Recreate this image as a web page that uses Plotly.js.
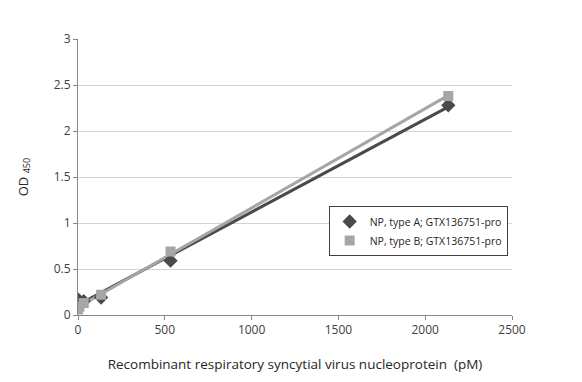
<!DOCTYPE html>
<html>
<head>
<meta charset="utf-8">
<script src="https://cdn.plot.ly/plotly-3.0.1.min.js"></script>
<style>html,body{margin:0;padding:0;background:#fff;}#chart{width:582px;height:382px;}</style>
</head>
<body>
<div id="chart"></div>
<script>
// Concentrations (pM)
const concentrations = [0, 8, 33, 133, 533, 2133];
// OD450 readings
const typeA = [0.17, 0.14, 0.15, 0.19, 0.59, 2.28];
const typeB = [0.06, 0.09, 0.13, 0.22, 0.69, 2.38];
const seriesNames = ['NP, type A; GTX136751-pro', 'NP, type B; GTX136751-pro'];
const xTicks = [0, 500, 1000, 1500, 2000, 2500];
const yTicks = [0, 0.5, 1, 1.5, 2, 2.5, 3];

function fit(x, y) {
  const n = x.length;
  const mx = x.reduce((a, b) => a + b, 0) / n;
  const my = y.reduce((a, b) => a + b, 0) / n;
  let sxy = 0, sxx = 0;
  for (let i = 0; i < n; i++) { sxy += (x[i] - mx) * (y[i] - my); sxx += (x[i] - mx) ** 2; }
  const m = sxy / sxx, b = my - m * mx;
  const xs = [Math.min(...x), Math.max(...x)];
  return { x: xs, y: xs.map(v => m * v + b) };
}

const colA = '#4a4a4a', colB = '#a6a6a6';
const fA = fit(concentrations, typeA), fB = fit(concentrations, typeB);

const traces = [
  { x: fA.x, y: fA.y, mode: 'lines', line: { color: colA, width: 3 }, showlegend: false, hoverinfo: 'skip' },
  { x: fB.x, y: fB.y, mode: 'lines', line: { color: colB, width: 3 }, showlegend: false, hoverinfo: 'skip' },
  { x: concentrations, y: typeA, mode: 'markers', name: seriesNames[0],
    marker: { symbol: 'diamond', size: 11, color: colA } },
  { x: concentrations, y: typeB, mode: 'markers', name: seriesNames[1],
    marker: { symbol: 'square', size: 10, color: colB } }
];

const font = { family: 'Open Sans, Liberation Sans, sans-serif', size: 12, color: '#404040' };

const layout = {
  width: 582, height: 382,
  margin: { l: 78, r: 70, t: 39, b: 67 },
  paper_bgcolor: '#fff', plot_bgcolor: '#fff',
  font: font,
  showlegend: true,
  legend: {
    x: 0.99, y: 0.395, xanchor: 'right', yanchor: 'top',
    bordercolor: '#404040', borderwidth: 1, bgcolor: '#fff',
    font: { family: 'Open Sans, Liberation Sans, sans-serif', size: 10.5, color: '#262626' },
    tracegroupgap: 0, itemwidth: 30
  },
  xaxis: {
    range: [0, 2500], tickvals: xTicks, ticktext: xTicks.map(String),
    showgrid: false, zeroline: false,
    showline: true, linecolor: '#868686', linewidth: 1,
    ticks: 'outside', ticklen: 4, tickcolor: '#868686',
    tickfont: { size: 12, color: '#404040' },
    title: { text: 'Recombinant respiratory syncytial virus nucleoprotein  (pM)', standoff: 22,
      font: { size: 13.5, color: '#262626' } }
  },
  yaxis: {
    range: [0, 3], tickvals: yTicks, ticktext: yTicks.map(String),
    showgrid: true, gridcolor: '#d4d4d4', zeroline: false,
    showline: true, linecolor: '#868686', linewidth: 1,
    ticks: 'outside', ticklen: 4, tickcolor: '#868686',
    tickfont: { size: 12, color: '#404040' },
    title: { text: 'OD <sub>450</sub>', standoff: 22, font: { size: 13, color: '#262626' } }
  }
};

Plotly.newPlot('chart', traces, layout, { staticPlot: true, displayModeBar: false });
</script>
</body>
</html>
